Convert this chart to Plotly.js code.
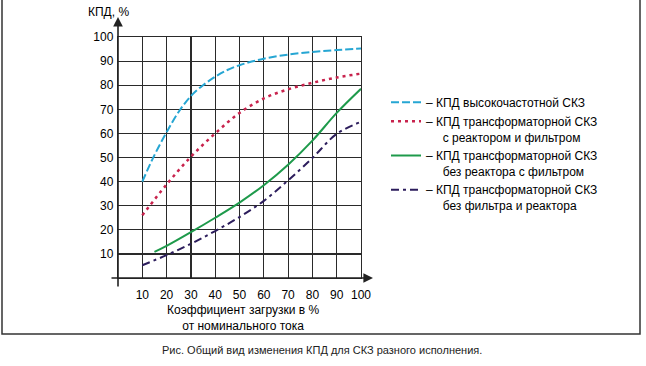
<!DOCTYPE html>
<html>
<head>
<meta charset="utf-8">
<script src="https://cdn.plot.ly/plotly-3.0.1.min.js"></script>
<style>html,body{margin:0;padding:0;background:#fff;}#chart{width:646px;height:366px;}</style>
</head>
<body>
<div id="chart"></div>
<script>
// Data
var xHF = [10, 15, 20, 25, 30, 35, 40, 45, 50, 55, 60, 70, 80, 90, 100];
var yHF = [40, 51, 60.5, 69, 75.5, 80, 83.5, 86.3, 88.3, 89.8, 91, 92.7, 93.8, 94.6, 95.2];

var xRF = [10, 20, 30, 40, 50, 60, 70, 80, 90, 100];
var yRF = [26, 38.8, 50.3, 60, 68.5, 74.5, 78.3, 81, 83.2, 84.8];

var xF = [15, 20, 30, 40, 50, 60, 70, 80, 90, 100];
var yF = [10.8, 13.3, 19, 25, 31.3, 38.5, 47, 57, 68.5, 78.5];

var xNone = [10, 20, 30, 40, 50, 60, 70, 80, 90, 100];
var yNone = [5.3, 9.5, 14.2, 19.5, 25.3, 32, 40.5, 49.8, 59.8, 64.8];

var tickVals = [10, 20, 30, 40, 50, 60, 70, 80, 90, 100];
var tickText = ['10', '20', '30', '40', '50', '60', '70', '80', '90', '100'];

var nb = '\u00a0\u00a0\u00a0\u00a0\u00a0';
var names = [
  '– КПД высокочастотной СКЗ',
  '– КПД трансформаторной СКЗ<br>' + nb + 'с реактором и фильтром',
  '– КПД трансформаторной СКЗ<br>' + nb + 'без реактора с фильтром',
  '– КПД трансформаторной СКЗ<br>' + nb + 'без фильтра и реактора'
];

var FONT = 'Liberation Sans, Arial, sans-serif';

var traces = [
  {x: xHF, y: yHF, name: names[0], mode: 'lines', line: {color: '#26a6d3', width: 2, dash: '8px,3px', shape: 'spline', smoothing: 1}},
  {x: xRF, y: yRF, name: names[1], mode: 'lines', line: {color: '#c8234d', width: 2.5, dash: '3px,4px', shape: 'spline', smoothing: 1}},
  {x: xF, y: yF, name: names[2], mode: 'lines', line: {color: '#1e9a4b', width: 2, shape: 'spline', smoothing: 1}},
  {x: xNone, y: yNone, name: names[3], mode: 'lines', line: {color: '#2c1d5c', width: 2, dash: '8px,4px,3px,4px', shape: 'spline', smoothing: 1}}
];

// plot area in pixels: left 118, right 361, top 37, bottom 278
var L = 118, R = 361, T = 37, B = 278, W = 646, H = 366;
function px(p) { return (p - L) / (R - L); }
function py(p) { return (B - p) / (B - T); }

var layout = {
  width: W, height: H,
  margin: {l: L, r: W - R, t: T, b: H - B, pad: 0},
  paper_bgcolor: '#ffffff',
  plot_bgcolor: '#ffffff',
  font: {family: FONT, size: 12, color: '#000'},
  showlegend: true,
  legend: {
    x: px(386), y: py(88), xanchor: 'left', yanchor: 'top',
    valign: 'top',
    font: {family: FONT, size: 12, color: '#000'},
    bgcolor: 'rgba(0,0,0,0)', borderwidth: 0
  },
  xaxis: {
    range: [0, 100], tickvals: tickVals, ticktext: tickText,
    showgrid: true, gridcolor: '#2a2a2a', gridwidth: 1.2,
    showline: true, mirror: true, linecolor: '#2a2a2a', linewidth: 1.2,
    zeroline: false, ticks: '', ticklabelstandoff: 5,
    tickfont: {family: FONT, size: 12, color: '#000'},
    fixedrange: true
  },
  yaxis: {
    range: [0, 100], tickvals: tickVals, ticktext: tickText,
    showgrid: true, gridcolor: '#2a2a2a', gridwidth: 1.2,
    showline: true, mirror: true, linecolor: '#2a2a2a', linewidth: 1.2,
    zeroline: false, ticks: '', ticklabelstandoff: 1,
    tickfont: {family: FONT, size: 12, color: '#000'},
    fixedrange: true
  },
  annotations: [
    // y-axis arrow
    {xref: 'paper', yref: 'paper', x: 0, y: py(17), ax: 0, ay: 288 - 17, text: '',
     showarrow: true, arrowhead: 2, arrowsize: 1.2, arrowwidth: 1.6, arrowcolor: '#222'},
    // x-axis arrow
    {xref: 'paper', yref: 'paper', x: px(373), y: 0, ax: -(373 - 110), ay: 0, text: '',
     showarrow: true, arrowhead: 2, arrowsize: 1.2, arrowwidth: 1.6, arrowcolor: '#222'},
    // y title
    {xref: 'paper', yref: 'paper', x: px(108), y: py(12), xanchor: 'center', yanchor: 'middle',
     text: 'КПД, %', showarrow: false, font: {family: FONT, size: 12, color: '#000'}},
    // x title
    {xref: 'paper', yref: 'paper', x: px(243), y: py(318), xanchor: 'center', yanchor: 'middle',
     text: 'Коэффициент загрузки в %<br>от номинального тока', showarrow: false,
     font: {family: FONT, size: 12, color: '#000'}},
    // caption
    {xref: 'paper', yref: 'paper', x: px(322), y: py(350), xanchor: 'center', yanchor: 'middle',
     text: 'Рис. Общий вид изменения КПД для СКЗ разного исполнения.', showarrow: false,
     font: {family: FONT, size: 11, color: '#222'}}
  ],
  shapes: [
    {type: 'rect', xref: 'paper', yref: 'paper', x0: px(2), x1: px(640), y0: py(334), y1: py(-3),
     line: {color: '#333', width: 1.5}, fillcolor: 'rgba(0,0,0,0)', layer: 'below'}
  ]
};

Plotly.newPlot('chart', traces, layout, {displayModeBar: false, staticPlot: true});
</script>
</body>
</html>
